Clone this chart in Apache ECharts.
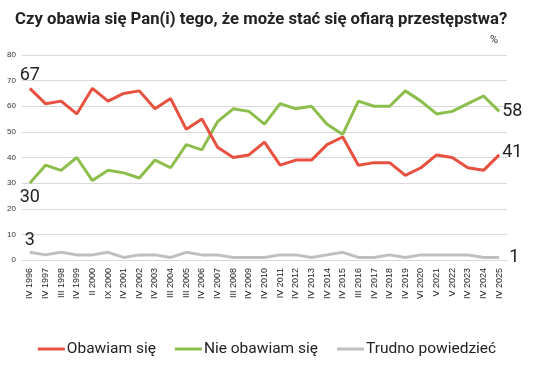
<!DOCTYPE html>
<html>
<head>
<meta charset="utf-8">
<script src="https://cdn.jsdelivr.net/npm/echarts@6/dist/echarts.min.js"></script>
<style>html,body{margin:0;padding:0;background:#fff}#c{width:534px;height:378px}</style>
</head>
<body>
<div id="c"></div>
<script>
const titleText = 'Czy obawia się Pan(i) tego, że może stać się ofiarą przestępstwa?';
const categories = ['IV 1996','IV 1997','III 1998','IV 1999','II 2000','IX 2000','IV 2001','IV 2002','IV 2003','III 2004','III 2005','IV 2006','IV 2007','III 2008','IV 2009','IV 2010','IV 2011','IV 2012','IV 2013','IV 2014','IV 2015','III 2016','IV 2017','IV 2018','IV 2019','VI 2020','V 2021','V 2022','IV 2023','IV 2024','IV 2025'];
const seriesNames = ['Obawiam się','Nie obawiam się','Trudno powiedzieć'];
const obawiam = [67,61,62,57,67,62,65,66,59,63,51,55,44,40,41,46,37,39,39,45,48,37,38,38,33,36,41,40,36,35,41];
const nieObawiam = [30,37,35,40,31,35,34,32,39,36,45,43,54,59,58,53,61,59,60,53,49,62,60,60,66,62,57,58,61,64,58];
const trudno = [3,2,3,2,2,3,1,2,2,1,3,2,2,1,1,1,2,2,1,2,3,1,1,2,1,2,2,2,2,1,1];
const yTicks = [0,10,20,30,40,50,60,70,80];

const colors = ['#E8503F','#8CBE4B','#BFBFBF'];
const firstLabelPos = [
  {position:'top', distance:4},
  {position:'bottom', distance:5},
  {position:'top', distance:3}
];
const lastLabelPos = [
  {position:'right', distance:3, offset:[0,-2]},
  {position:'right', distance:3},
  {position:'right', distance:10}
];

function mkData(arr, i){
  return arr.map((v, k) => {
    if (k === 0) return {value:v, label:Object.assign({show:true}, firstLabelPos[i])};
    if (k === arr.length - 1) return {value:v, label:Object.assign({show:true}, lastLabelPos[i])};
    return v;
  });
}

const chart = echarts.init(document.getElementById('c'), null, {renderer:'canvas'});
const allSeries = [obawiam, nieObawiam, trudno];
chart.setOption({
  animation:false,
  textStyle:{fontFamily:'Roboto'},
  title:{
    text:titleText, left:10, top:6,
    textStyle:{fontFamily:'Roboto', fontSize:16.7, fontWeight:'bold', color:'#222'}
  },
  graphic:[{type:'text', left:490, top:35, style:{text:'%', fontSize:11, fontFamily:'Roboto', fill:'#333'}}],
  legend:{
    data:seriesNames, bottom:16, left:'center', icon:'rect', itemWidth:27, itemHeight:3, itemGap:19,
    textStyle:{fontFamily:'Roboto', fontSize:15.5, color:'#222', padding:[0,0,0,-3]}
  },
  grid:{left:22, right:27, top:55, bottom:118, containLabel:false},
  xAxis:{
    type:'category', data:categories, boundaryGap:true,
    axisLine:{lineStyle:{color:'#D9D9D9', width:1}},
    axisTick:{show:false},
    axisLabel:{rotate:90, interval:0, fontSize:9, color:'#222', margin:8, fontFamily:'Liberation Sans'}
  },
  yAxis:{
    type:'value', min:yTicks[0], max:yTicks[yTicks.length-1], interval:10,
    axisLine:{show:false}, axisTick:{show:false},
    splitLine:{lineStyle:{color:'#D9D9D9', width:1}},
    axisLabel:{fontSize:8, color:'#333', margin:6, fontFamily:'Liberation Sans'}
  },
  series: allSeries.map((arr, i) => ({
    name:seriesNames[i], type:'line', data:mkData(arr, i),
    symbol:'circle', symbolSize:0.01, showAllSymbol:true,
    lineStyle:{color:colors[i], width:3}, itemStyle:{color:colors[i]},
    emphasis:{disabled:true},
    label:{show:false, fontSize:18, color:'#222', fontFamily:'Roboto'},
    z: 3 - i
  }))
});
</script>
</body>
</html>
